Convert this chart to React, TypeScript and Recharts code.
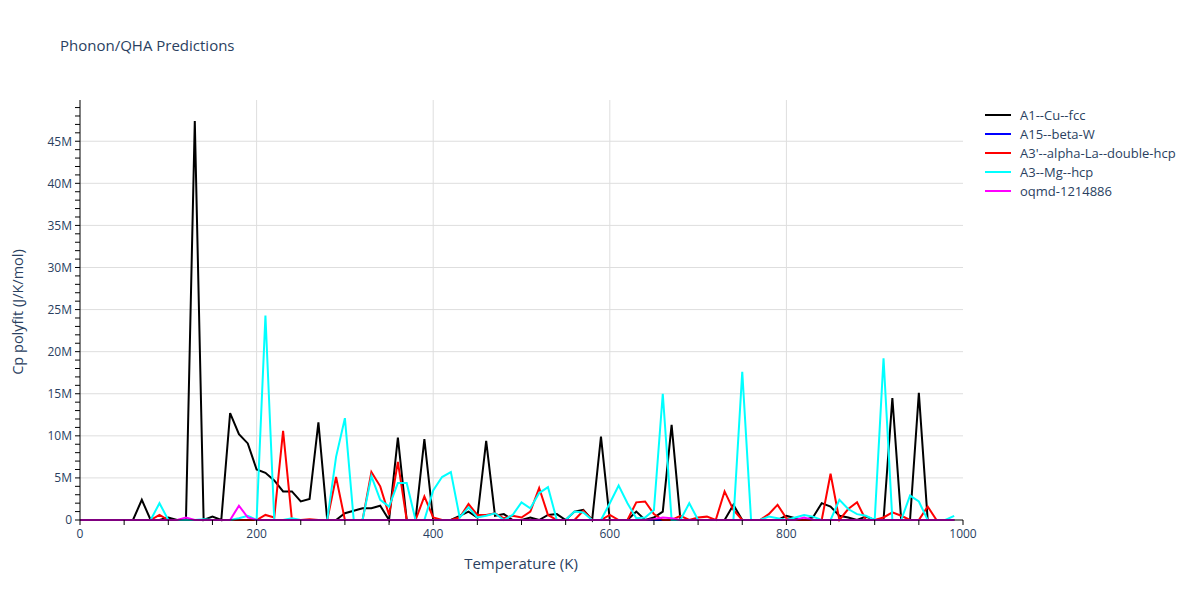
import { CartesianGrid, Line, LineChart, XAxis, YAxis } from "recharts";

const TEMPS = [
  0, 10, 20, 30, 40, 50, 60, 70, 80, 90, 100, 110, 120, 130, 140, 150, 160, 170, 180, 190,
  200, 210, 220, 230, 240, 250, 260, 270, 280, 290, 300, 310, 320, 330, 340, 350, 360, 370, 380, 390,
  400, 410, 420, 430, 440, 450, 460, 470, 480, 490, 500, 510, 520, 530, 540, 550, 560, 570, 580, 590,
  600, 610, 620, 630, 640, 650, 660, 670, 680, 690, 700, 710, 720, 730, 740, 750, 760, 770, 780, 790,
  800, 810, 820, 830, 840, 850, 860, 870, 880, 890, 900, 910, 920, 930, 940, 950, 960, 970, 980, 990,
];

// values in millions (J/K/mol)
const CU_FCC = [
  0, 0, 0, 0, 0, 0, 0, 2.4, 0, 0, 0.3, 0, 0, 47.4, 0, 0.4, 0, 12.7, 10.2, 9.1,
  6.0, 5.6, 4.7, 3.4, 3.4, 2.2, 2.5, 11.6, 0, 0, 0.8, 1.1, 1.4, 1.4, 1.7, 0, 9.8, 0, 0, 9.6,
  0, 0, 0, 0.5, 1.0, 0.3, 9.4, 0.5, 0.7, 0, 0, 0.3, 0, 0.6, 0.7, 0, 1.0, 1.2, 0, 9.9,
  0, 0, 0, 1.0, 0, 0.3, 1.0, 11.3, 0, 0, 0, 0, 0, 0, 1.8, 0, 0, 0, 0, 0,
  0.5, 0.2, 0, 0.3, 2.0, 1.6, 0.5, 0.3, 0, 0.4, 0, 0, 14.5, 0, 0, 15.1, 0, 0, 0, 0,
];

const BETA_W = [
  0, 0, 0, 0, 0, 0, 0, 0, 0, 0, 0, 0, 0, 0, 0, 0, 0, 0, 0, 0,
  0, 0, 0, 0, 0, 0, 0, 0, 0, 0, 0, 0, 0, 0, 0, 0, 0, 0, 0, 0,
  0, 0, 0, 0, 0, 0, 0, 0, 0, 0, 0, 0, 0, 0, 0, 0, 0, 0, 0, 0,
  0, 0, 0, 0, 0, 0, 0, 0, 0, 0, 0, 0, 0, 0, 0, 0, 0, 0, 0, 0,
  0, 0, 0, 0, 0, 0, 0, 0, 0, 0, 0, 0, 0, 0, 0, 0, 0, 0, 0, 0,
];

const LA_DHCP = [
  0, 0, 0, 0, 0, 0, 0, 0, 0, 0.6, 0, 0, 0, 0, 0, 0, 0, 0, 0, 0,
  0, 0.6, 0.3, 10.6, 0, 0, 0.1, 0, 0, 5.1, 0, 0, 0, 5.7, 4.0, 0.6, 6.9, 0, 0, 2.8,
  0.3, 0, 0, 0.3, 1.9, 0.6, 0.6, 0.8, 0.2, 0.5, 0.3, 1.0, 3.8, 0.6, 0, 0, 0, 1.1, 0, 0,
  0.6, 0, 0, 2.1, 2.2, 0.7, 0, 0, 0.5, 0, 0.3, 0.4, 0, 3.4, 1.2, 0, 0, 0, 0.7, 1.8,
  0.2, 0, 0, 0, 0, 5.5, 0, 1.3, 2.1, 0, 0, 0.3, 0.9, 0.5, 0, 0, 1.6, 0, 0, 0,
];

const MG_HCP = [
  0, 0, 0, 0, 0, 0, 0, 0, 0, 2.0, 0, 0, 0, 0, 0.1, 0, 0, 0, 0.2, 0.5,
  0, 24.3, 0, 0, 0.2, 0, 0, 0, 0, 7.5, 12.1, 0, 0, 5.2, 2.4, 1.6, 4.4, 4.4, 0, 0,
  3.5, 5.1, 5.7, 0.3, 1.5, 0.3, 0.5, 0.8, 0, 0.6, 2.1, 1.4, 3.2, 3.9, 0, 0, 1.0, 0.9, 0, 0,
  2.0, 4.1, 2.0, 0.2, 0.3, 1.2, 15.0, 0, 0, 2.0, 0, 0, 0, 0, 0, 17.6, 0, 0, 0.4, 0.2,
  0, 0.3, 0.6, 0.4, 0, 0, 2.4, 1.3, 0.7, 0.5, 0, 19.2, 0, 0, 2.9, 2.2, 0, 0, 0, 0.5,
];

const OQMD = [
  0, 0, 0, 0, 0, 0, 0, 0, 0, 0, 0, 0, 0.3, 0, 0, 0, 0, 0, 1.7, 0.3,
  0, 0, 0, 0, 0, 0, 0, 0, 0, 0, 0, 0, 0, 0, 0, 0, 0, 0, 0, 0,
  0, 0, 0, 0, 0, 0, 0, 0, 0, 0, 0, 0, 0, 0, 0, 0, 0, 0, 0, 0,
  0, 0, 0, 0, 0, 0.1, 0.3, 0.2, 0, 0, 0, 0, 0, 0, 0, 0, 0, 0, 0, 0,
  0, 0, 0.3, 0, 0, 0, 0, 0, 0, 0, 0, 0, 0, 0, 0, 0, 0, 0, 0, 0,
];

const SERIES = [
  { key: "cu", label: "A1--Cu--fcc", color: "#000000", values: CU_FCC },
  { key: "w", label: "A15--beta-W", color: "#0000ff", values: BETA_W },
  { key: "la", label: "A3'--alpha-La--double-hcp", color: "#ff0000", values: LA_DHCP },
  { key: "mg", label: "A3--Mg--hcp", color: "#00ffff", values: MG_HCP },
  { key: "oqmd", label: "oqmd-1214886", color: "#ff00ff", values: OQMD },
];

const X_TICKS = [
  0, 50, 100, 150, 200, 250, 300, 350, 400, 450, 500, 550, 600, 650, 700, 750, 800, 850, 900, 950, 1000,
];
const Y_TICKS = Array.from({ length: 50 }, (_, i) => i * 1e6);

const data = TEMPS.map((t, i) => {
  const row: Record<string, number> = { t };
  SERIES.forEach((s) => {
    row[s.key] = s.values[i] * 1e6;
  });
  return row;
});

const FONT = '"Open Sans", verdana, arial, sans-serif';
const TEXT = "#2a3f5f";

const fmtX = (v: number) => (v % 200 === 0 ? String(v) : "");
const fmtY = (v: number) => {
  if (v === 0) return "0";
  if (v % 5e6 !== 0) return "";
  return `${v / 1e6}M`;
};

export default function App() {
  return (
    <div
      style={{
        position: "absolute",
        left: 0,
        top: 0,
        width: 1200,
        height: 600,
        background: "#fff",
        fontFamily: FONT,
        color: TEXT,
      }}
    >
      <div style={{ position: "absolute", left: 60, top: 35, fontSize: 15 }}>
        Phonon/QHA Predictions
      </div>
      <LineChart
        width={1200}
        height={600}
        data={data}
        margin={{ top: 100, right: 237, left: 20, bottom: 50 }}
      >
        <CartesianGrid
          stroke="#dedede"
          horizontalValues={[5e6, 10e6, 15e6, 20e6, 25e6, 30e6, 35e6, 40e6, 45e6]}
          verticalValues={[200, 400, 600, 800]}
        />
        <XAxis
          dataKey="t"
          type="number"
          domain={[0, 1000]}
          ticks={X_TICKS}
          tickFormatter={fmtX}
          interval={0}
          height={30}
          tickSize={5}
          tickMargin={4}
          stroke="#000"
          tick={{ fill: TEXT, fontSize: 12, fontFamily: FONT }}
        />
        <YAxis
          type="number"
          domain={[0, 49.9e6]}
          ticks={Y_TICKS}
          tickFormatter={fmtY}
          interval={0}
          width={60}
          tickSize={5}
          tickMargin={3}
          stroke="#000"
          tick={{ fill: TEXT, fontSize: 12, fontFamily: FONT }}
        />
        {SERIES.map((s) => (
          <Line
            key={s.key}
            type="linear"
            dataKey={s.key}
            name={s.label}
            stroke={s.color}
            strokeWidth={2}
            dot={false}
            activeDot={false}
            isAnimationActive={false}
          />
        ))}
      </LineChart>
      <div
        style={{
          position: "absolute",
          left: 421,
          top: 553,
          width: 200,
          textAlign: "center",
          fontSize: 15,
          whiteSpace: "nowrap",
        }}
      >
        Temperature (K)
      </div>
      <div
        style={{
          position: "absolute",
          left: 17,
          top: 312,
          fontSize: 14.5,
          whiteSpace: "nowrap",
          transform: "translate(-50%, -50%) rotate(-90deg)",
        }}
      >
        Cp polyfit (J/K/mol)
      </div>
      <div style={{ position: "absolute", left: 985, top: 105 }}>
        {SERIES.map((s) => (
          <div
            key={s.key}
            style={{ display: "flex", alignItems: "center", height: 19, fontSize: 13 }}
          >
            <div style={{ width: 26, height: 2, background: s.color, marginRight: 9 }} />
            <span>{s.label}</span>
          </div>
        ))}
      </div>
    </div>
  );
}
